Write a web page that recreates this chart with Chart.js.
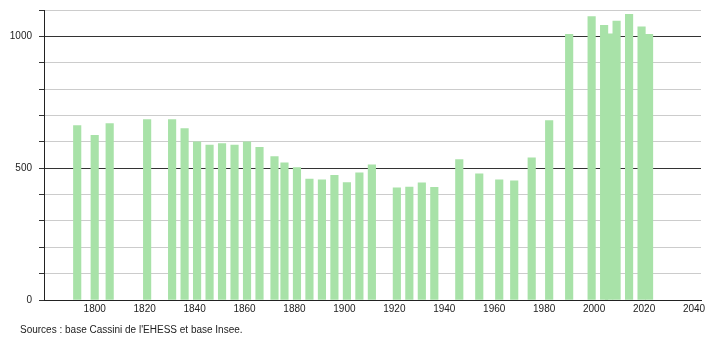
<!DOCTYPE html>
<html lang="fr">
<head>
    <meta charset="UTF-8">
    <title>Évolution démographique</title>
    <script src="https://cdn.jsdelivr.net/npm/chart.js@4.4.1/dist/chart.umd.min.js"></script>
    <style>
        body {
            margin: 0;
            background: #fff;
            font-family: "Liberation Sans", Arial, sans-serif;
        }
        .wrap {
            position: relative;
            width: 710px;
            height: 340px;
        }
        .source {
            position: absolute;
            left: 20px;
            top: 324px;
            font-size: 10px;
            line-height: 12px;
            color: #222;
        }
    </style>
</head>
<body>
    <div class="wrap">
        <canvas id="popChart" width="710" height="340"></canvas>
        <div class="source">Sources : base Cassini de l'EHESS et base Insee.</div>
    </div>

    <script>
// census years and population
const years = [1793, 1800, 1806, 1821, 1831, 1836, 1841, 1846, 1851, 1856,
    1861, 1866, 1872, 1876, 1881, 1886, 1891, 1896, 1901, 1906,
    1911, 1921, 1926, 1931, 1936, 1946, 1954, 1962, 1968, 1975,
    1982, 1990, 1999, 2004, 2006, 2009, 2014, 2019, 2022];
const population = [662, 625, 669, 684, 684, 650, 600, 588, 593, 588,
    600, 579, 544, 520, 502, 459, 456, 473, 445, 482,
    513, 425, 428, 444, 427, 533, 479, 456, 452, 539,
    681, 1008, 1075, 1042, 1010, 1058, 1084, 1036, 1008];
const xTicks = [1800, 1820, 1840, 1860, 1880, 1900, 1920, 1940, 1960, 1980, 2000, 2020, 2040];
const yLabels = [0, 500, 1000];

const points = years.map((y, i) => ({ x: y, y: population[i] }));
const tickFont = { family: '"Liberation Sans", Arial, sans-serif', size: 10 };

new Chart(document.getElementById('popChart'), {
    type: 'bar',
    data: {
        datasets: [{
            data: points,
            backgroundColor: '#a8e2a8',
            borderWidth: 0,
            barThickness: 7.5
        }]
    },
    options: {
        responsive: false,
        animation: false,
        layout: { padding: { top: 10, right: 9, left: 0, bottom: 0 } },
        plugins: {
            legend: { display: false },
            tooltip: { enabled: false }
        },
        scales: {
            x: {
                type: 'linear',
                offset: false,
                min: 1779.7,
                max: 2042.8,
                afterBuildTicks: axis => {
                    axis.ticks = xTicks.map(v => ({ value: v }));
                },
                afterFit: scale => {
                    scale.height = 40;
                    scale.paddingLeft = 0;
                    scale.paddingRight = 0;
                },
                grid: { display: false, drawTicks: false },
                border: { display: true, color: '#222', width: 1 },
                ticks: {
                    font: tickFont,
                    color: '#222',
                    padding: 3,
                    maxRotation: 0,
                    autoSkip: false,
                    callback: v => String(v)
                }
            },
            y: {
                min: 0,
                max: 1100,
                afterFit: scale => {
                    scale.width = 44;
                    scale.paddingTop = 0;
                    scale.paddingBottom = 0;
                },
                grid: {
                    color: ctx => (ctx.tick && ctx.tick.value % 500 === 0) ? '#333' : '#cccccc',
                    tickColor: '#333',
                    tickLength: 5,
                    lineWidth: 1
                },
                border: { display: true, color: '#222', width: 1 },
                ticks: {
                    stepSize: 100,
                    font: tickFont,
                    color: '#222',
                    padding: 7,
                    callback: v => yLabels.includes(v) ? String(v) : ''
                }
            }
        }
    }
});
    </script>
</body>
</html>
